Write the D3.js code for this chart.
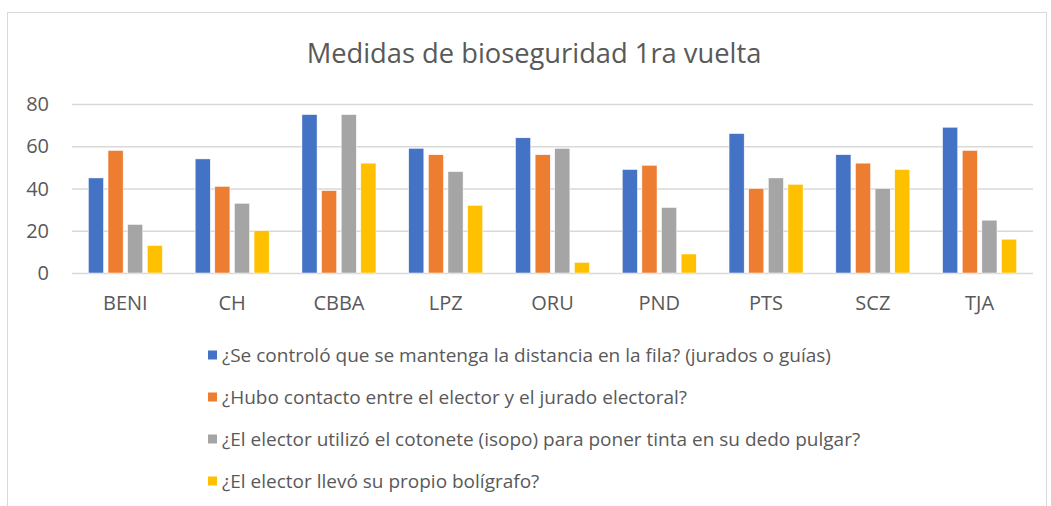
<!DOCTYPE html>
<html lang="es">
<head>
  <meta charset="UTF-8">
  <title>Medidas de bioseguridad</title>
  <style>
    body { margin: 0; background: #fff; }
    svg text { font-family: "Open Sans", sans-serif; fill: #595959; }
    .grid line { stroke: #d9d9d9; stroke-width: 1.5px; }
    .grid .domain { display: none; }
  </style>
</head>
<body>
  <div id="chart"></div>

  <script src="https://d3js.org/d3.v7.min.js"></script>
  <script>
    // categorias y series
    const regiones = ["BENI", "CH", "CBBA", "LPZ", "ORU", "PND", "PTS", "SCZ", "TJA"];
    const preguntas = [
      "¿Se controló que se mantenga la distancia en la fila? (jurados o guías)",
      "¿Hubo contacto entre el elector y el jurado electoral?",
      "¿El elector utilizó el cotonete (isopo) para poner tinta en su dedo pulgar?",
      "¿El elector llevó su propio bolígrafo?"
    ];
    const distancia = [45, 54, 75, 59, 64, 49, 66, 56, 69];
    const contacto = [58, 41, 39, 56, 56, 51, 40, 52, 58];
    const cotonete = [23, 33, 75, 48, 59, 31, 45, 40, 25];
    const boligrafo = [13, 20, 52, 32, 5, 9, 42, 49, 16];
    const yTicks = [0, 20, 40, 60, 80];
    const colores = ["#4472C4", "#ED7D31", "#A5A5A5", "#FFC000"];

    const series = [distancia, contacto, cotonete, boligrafo];

    const width = 1051, height = 506;
    const svg = d3.select("#chart").append("svg")
      .attr("width", width)
      .attr("height", height);

    // marco del grafico
    svg.append("rect")
      .attr("x", 7.5).attr("y", 12.5)
      .attr("width", 1039).attr("height", 520)
      .attr("fill", "none")
      .attr("stroke", "#d9d9d9")
      .attr("stroke-width", 1);

    svg.append("text")
      .attr("x", 534).attr("y", 63)
      .attr("text-anchor", "middle")
      .style("font-size", "27.3px")
      .text("Medidas de bioseguridad 1ra vuelta");

    const left = 72, right = 1033;
    const x0 = d3.scaleBand().domain(regiones).range([left, right]).padding(0);
    const grupo = 74;
    const x1 = d3.scaleBand().domain(d3.range(series.length))
      .range([(x0.bandwidth() - grupo) / 2, (x0.bandwidth() + grupo) / 2])
      .paddingInner(0.23).paddingOuter(0);
    const y = d3.scaleLinear().domain([0, 80]).range([273, 104]);

    // lineas de cuadricula
    svg.append("g").attr("class", "grid")
      .attr("transform", `translate(${left},0)`)
      .call(d3.axisLeft(y).tickValues(yTicks).tickSize(-(right - left)).tickFormat(""));

    // etiquetas eje y
    svg.append("g").selectAll("text")
      .data(yTicks).join("text")
      .attr("x", 49)
      .attr("y", d => y(d))
      .attr("dy", "0.35em")
      .attr("text-anchor", "end")
      .style("font-size", "20px")
      .text(d => d);

    // barras
    const grupos = svg.append("g").selectAll("g")
      .data(regiones).join("g")
      .attr("transform", d => `translate(${x0(d)},0)`);

    grupos.selectAll("rect")
      .data((d, i) => series.map((s, k) => ({ k, v: s[i] })))
      .join("rect")
      .attr("x", d => x1(d.k))
      .attr("width", x1.bandwidth())
      .attr("y", d => y(d.v))
      .attr("height", d => y(0) - y(d.v))
      .attr("fill", d => colores[d.k])
      .attr("stroke", "#fff")
      .attr("stroke-width", 0.5);

    // etiquetas eje x
    svg.append("g").selectAll("text")
      .data(regiones).join("text")
      .attr("x", d => x0(d) + x0.bandwidth() / 2)
      .attr("y", 303)
      .attr("dy", "0.35em")
      .attr("text-anchor", "middle")
      .style("font-size", "20px")
      .text(d => d);

    // leyenda
    const ley = svg.append("g").selectAll("g")
      .data(preguntas).join("g")
      .attr("transform", (d, i) => `translate(208,${355 + i * 42})`);

    ley.append("rect")
      .attr("x", 0).attr("y", -4.5)
      .attr("width", 9).attr("height", 9)
      .attr("fill", (d, i) => colores[i]);

    ley.append("text")
      .attr("x", 14)
      .attr("dy", "0.35em")
      .style("font-size", "19px")
      .text(d => d);
  </script>
</body>
</html>
